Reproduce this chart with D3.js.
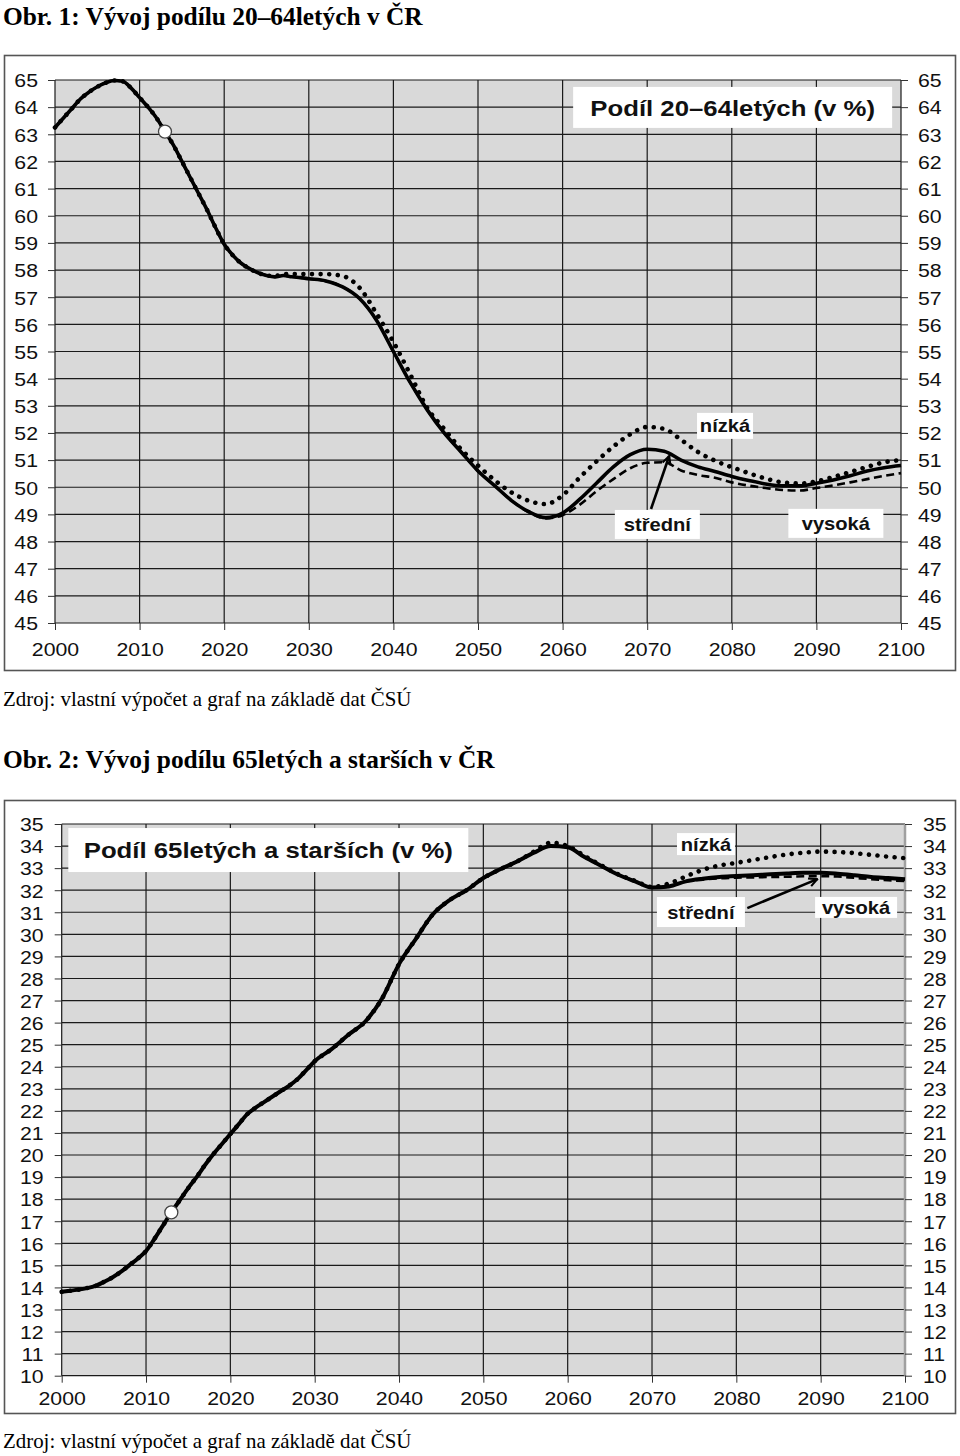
<!DOCTYPE html>
<html><head><meta charset="utf-8">
<script src="https://cdn.jsdelivr.net/npm/d3@7"></script>
<style>body{margin:0;background:#fff}</style>
</head><body><svg id="c" width="960" height="1456"></svg>
<script>
// ---------- DATA ----------
const years = [2000,2001,2002,2003,2004,2005,2006,2007,2008,2009,2010,2011,2012,2013,2014,2015,2016,2017,2018,2019,2020,
  2021,2022,2023,2024,2025,2026,2027,2028,2029,2030,
  2032,2034,2036,2038,2040,2042,2044,2046,2048,2050,2052,2054,2056,2058,2060,2062,2064,2066,2068,2070,
  2072,2074,2076,2078,2080,2082,2084,2086,2088,2090,2092,2094,2096,2098,2100];

// Obr. 1 – share of 20–64 year olds (%)
const stredni1 = [63.25,63.6,63.95,64.3,64.55,64.75,64.9,64.98,64.95,64.7,64.35,64.0,63.6,63.1,62.6,62.0,61.4,60.8,60.2,59.55,58.95,
  58.55,58.25,58.05,57.9,57.8,57.75,57.8,57.75,57.72,57.68,
  57.6,57.38,56.95,56.15,55.0,53.85,52.85,52.0,51.3,50.6,50.05,49.5,49.1,48.88,49.05,49.55,50.15,50.75,51.2,51.4,
  51.33,51.0,50.75,50.58,50.4,50.25,50.12,50.05,50.05,50.15,50.27,50.42,50.6,50.72,50.8];
const nizka1 = [63.25,63.6,63.95,64.3,64.55,64.75,64.9,64.98,64.95,64.7,64.35,64.0,63.6,63.1,62.6,62.0,61.4,60.8,60.2,59.55,58.95,
  58.55,58.25,58.05,57.9,57.8,57.78,57.85,57.85,57.85,57.85,
  57.85,57.78,57.35,56.4,55.35,54.15,52.92,52.15,51.4,50.8,50.25,49.8,49.5,49.38,49.7,50.35,50.95,51.5,51.95,52.22,
  52.15,51.75,51.3,50.98,50.74,50.52,50.32,50.18,50.14,50.22,50.38,50.56,50.75,50.92,51.0];
const vysoka1 = [63.25,63.6,63.95,64.3,64.55,64.75,64.9,64.98,64.95,64.7,64.35,64.0,63.6,63.1,62.6,62.0,61.4,60.8,60.2,59.55,58.95,
  58.55,58.25,58.05,57.9,57.8,57.75,57.8,57.75,57.72,57.68,
  57.6,57.38,56.95,56.15,55.0,53.85,52.85,52.0,51.3,50.6,50.05,49.5,49.08,48.85,48.97,49.35,49.85,50.3,50.7,50.9,
  50.92,50.62,50.45,50.35,50.18,50.06,49.97,49.9,49.88,49.97,50.07,50.18,50.3,50.42,50.52];

// Obr. 2 – share of 65+ (%)
const stredni2 = [13.8,13.85,13.9,13.97,14.07,14.25,14.45,14.7,15.0,15.3,15.65,16.2,16.8,17.4,17.95,18.5,19.0,19.55,20.05,20.5,20.95,
  21.4,21.85,22.15,22.4,22.65,22.9,23.15,23.45,23.85,24.25,
  24.8,25.45,26.05,27.1,28.65,29.8,30.9,31.55,32.0,32.55,32.95,33.3,33.7,34.0,33.95,33.5,33.1,32.7,32.4,32.12,
  32.17,32.4,32.52,32.6,32.64,32.68,32.72,32.76,32.79,32.79,32.75,32.68,32.6,32.55,32.5];
const nizka2 = [13.8,13.85,13.9,13.97,14.07,14.25,14.45,14.7,15.0,15.3,15.65,16.2,16.8,17.4,17.95,18.5,19.0,19.55,20.05,20.5,20.95,
  21.4,21.85,22.15,22.4,22.65,22.9,23.15,23.45,23.85,24.25,
  24.8,25.45,26.05,27.1,28.65,29.8,30.9,31.55,32.0,32.55,32.95,33.3,33.75,34.15,34.0,33.55,33.12,32.72,32.42,32.15,
  32.3,32.62,32.92,33.12,33.24,33.37,33.5,33.62,33.7,33.75,33.73,33.68,33.6,33.52,33.45];
const vysoka2 = [13.8,13.85,13.9,13.97,14.07,14.25,14.45,14.7,15.0,15.3,15.65,16.2,16.8,17.4,17.95,18.5,19.0,19.55,20.05,20.5,20.95,
  21.4,21.85,22.15,22.4,22.65,22.9,23.15,23.45,23.85,24.25,
  24.8,25.45,26.05,27.1,28.65,29.8,30.9,31.55,32.0,32.55,32.95,33.3,33.7,34.0,33.95,33.5,33.1,32.7,32.4,32.12,
  32.17,32.4,32.48,32.54,32.57,32.58,32.6,32.61,32.63,32.64,32.62,32.56,32.5,32.45,32.42];

const xTicks = [2000,2010,2020,2030,2040,2050,2060,2070,2080,2090,2100];
const yTicks1 = [45,46,47,48,49,50,51,52,53,54,55,56,57,58,59,60,61,62,63,64,65];
const yTicks2 = [10,11,12,13,14,15,16,17,18,19,20,21,22,23,24,25,26,27,28,29,30,31,32,33,34,35];
const markYear = 2013;

// ---------- DRAW ----------
const svg = d3.select("#c");
const SANS = "'Liberation Sans', Arial, sans-serif";
const SERIF = "'Liberation Serif', 'Times New Roman', serif";
const SX = 1.12;

const defs = svg.append("defs");
defs.append("marker").attr("id","arr").attr("viewBox","0 0 10 10").attr("refX",9).attr("refY",5)
  .attr("markerWidth",4).attr("markerHeight",4).attr("orient","auto-start-reverse")
  .append("path").attr("d","M1,1 L9,5 L1,9").attr("fill","none").attr("stroke","#000").attr("stroke-width",2);

function text(x,y,s,opt){
  return svg.append("text").attr("x",x).attr("y",y).text(s)
    .attr("font-family",opt.family).attr("font-size",opt.size).attr("font-weight",opt.weight||"normal").attr("fill","#000");
}

function chart(c){
  svg.append("rect").attr("x",c.frame[0]).attr("y",c.frame[1]).attr("width",c.frame[2]).attr("height",c.frame[3])
    .attr("fill","#fff").attr("stroke","#555").attr("stroke-width",1.6);
  const x = d3.scaleLinear().domain([2000,2100]).range([c.x0,c.x1]);
  const y = d3.scaleLinear().domain(c.yDomain).range([c.y1,c.y0]);
  const g = svg.append("g");
  g.append("rect").attr("x",c.x0).attr("y",c.y0).attr("width",c.x1-c.x0).attr("height",c.y1-c.y0).attr("fill","#d9d9d9");
  // grid
  g.append("g").selectAll("line").data(c.yTicks).join("line")
    .attr("x1",c.x0).attr("x2",c.x1).attr("y1",d=>y(d)).attr("y2",d=>y(d)).attr("stroke","#1a1a1a").attr("stroke-width",1.2);
  g.append("g").selectAll("line").data(xTicks).join("line")
    .attr("x1",d=>x(d)).attr("x2",d=>x(d)).attr("y1",c.y0).attr("y2",c.y1).attr("stroke","#1a1a1a").attr("stroke-width",1.2);
  if(c.greyRight) g.append("line").attr("x1",c.x1).attr("x2",c.x1).attr("y1",c.y0).attr("y2",c.y1).attr("stroke","#a0a0a0").attr("stroke-width",2.5);

  // axes
  const styleAxis = (sel, side, pad) => {
    sel.select(".domain").remove();
    sel.selectAll(".tick line").attr("stroke","#333").attr("stroke-width",1);
    sel.selectAll("text").attr("font-family",SANS).attr("font-size",19).attr("fill","#111")
      .attr("transform",`scale(${SX},1)`);
    if(side==="left") sel.selectAll("text").attr("x",-(7+pad)/SX).attr("dy","0.36em");
    if(side==="right") sel.selectAll("text").attr("x",(7+pad)/SX).attr("dy","0.36em");
  };
  svg.append("g").attr("transform",`translate(${c.x0},0)`)
    .call(d3.axisLeft(y).tickValues(c.yTicks).tickFormat(d3.format("d")).tickSize(7).tickSizeOuter(0).tickPadding(c.padL))
    .call(s=>styleAxis(s,"left",c.padL));
  svg.append("g").attr("transform",`translate(${c.x1},0)`)
    .call(d3.axisRight(y).tickValues(c.yTicks).tickFormat(d3.format("d")).tickSize(7).tickSizeOuter(0).tickPadding(c.padR))
    .call(s=>styleAxis(s,"right",c.padR));
  svg.append("g").attr("transform",`translate(0,${c.y1})`)
    .call(d3.axisBottom(x).tickValues(xTicks).tickFormat(d3.format("d")).tickSize(7).tickSizeOuter(0).tickPadding(c.padB))
    .call(s=>styleAxis(s,"bottom",c.padB));

  // lines
  const pts = arr => years.map((yr,i)=>[yr,arr[i]]);
  const line = d3.line().x(d=>x(d[0])).y(d=>y(d[1])).curve(d3.curveMonotoneX);
  g.append("path").attr("d",line(pts(c.low))).attr("fill","none").attr("stroke","#000")
    .attr("stroke-width",4.6).attr("stroke-linecap","round").attr("stroke-dasharray","0.01 8.6");
  g.append("path").attr("d",line(pts(c.high))).attr("fill","none").attr("stroke","#000")
    .attr("stroke-width",2.6).attr("stroke-dasharray","8 4.5");
  g.append("path").attr("d",line(pts(c.mid))).attr("fill","none").attr("stroke","#000")
    .attr("stroke-width",c.midW).attr("stroke-linejoin","round");
  const mi = years.indexOf(markYear);
  g.append("circle").attr("cx",x(markYear)).attr("cy",y(c.mid[mi])).attr("r",6.5)
    .attr("fill","#fff").attr("stroke","#444").attr("stroke-width",1.3);

  // arrow
  g.append("line").attr("x1",x(c.arrow[0])).attr("y1",y(c.arrow[1])).attr("x2",x(c.arrow[2])).attr("y2",y(c.arrow[3]))
    .attr("stroke","#000").attr("stroke-width",2.6).attr("marker-end","url(#arr)");

  // labels with white boxes
  c.labels.forEach(l=>{
    const cx=x(l.yr), cy=y(l.v);
    g.append("rect").attr("x",cx-l.w/2).attr("y",cy-l.h/2).attr("width",l.w).attr("height",l.h).attr("fill","#fff");
    g.append("text").attr("transform",`translate(${cx},${cy}) scale(${SX},1)`).attr("text-anchor","middle")
      .attr("dy","0.36em").attr("font-family",SANS).attr("font-weight","bold").attr("font-size",l.fs).attr("fill","#111").text(l.t);
  });
}

text(3,25,"Obr. 1: Vývoj podílu 20–64letých v ČR",{family:SERIF,size:25.4,weight:"bold"});
chart({frame:[4.5,55.5,951,615], x0:55,x1:901,y0:80,y1:623, yDomain:[45,65], yTicks:yTicks1,
  padL:10,padR:10,padB:13, mid:stredni1, low:nizka1, high:vysoka1, midW:3.6,
  arrow:[2070.45,49.2,2072.6,51.15],
  labels:[
    {t:"Podíl 20–64letých (v %)", yr:2080.1, v:63.99, w:319, h:41, fs:23},
    {t:"nízká", yr:2079.2, v:52.26, w:56, h:26, fs:18},
    {t:"střední", yr:2071.2, v:48.63, w:85, h:29, fs:18},
    {t:"vysoká", yr:2092.3, v:48.67, w:95, h:29, fs:18}
  ]});
text(3,706,"Zdroj: vlastní výpočet a graf na základě dat ČSÚ",{family:SERIF,size:20.9});

text(3,768,"Obr. 2: Vývoj podílu 65letých a starších v ČR",{family:SERIF,size:25.4,weight:"bold"});
chart({frame:[4.5,800.5,951,613], x0:61.7,x1:905,y0:824,y1:1375.7, yDomain:[10,35], yTicks:yTicks2,
  padL:11,padR:11,padB:9, mid:stredni2, low:nizka2, high:vysoka2, midW:4, greyRight:true,
  arrow:[2081.3,31.19,2089.6,32.5],
  labels:[
    {t:"Podíl 65letých a starších (v %)", yr:2024.5, v:33.82, w:400, h:44, fs:23},
    {t:"nízká", yr:2076.4, v:34.09, w:58, h:22, fs:18},
    {t:"střední", yr:2075.8, v:31.01, w:88, h:30, fs:18},
    {t:"vysoká", yr:2094.2, v:31.22, w:82, h:21, fs:18}
  ]});
text(3,1448,"Zdroj: vlastní výpočet a graf na základě dat ČSÚ",{family:SERIF,size:20.9});
</script></body></html>
